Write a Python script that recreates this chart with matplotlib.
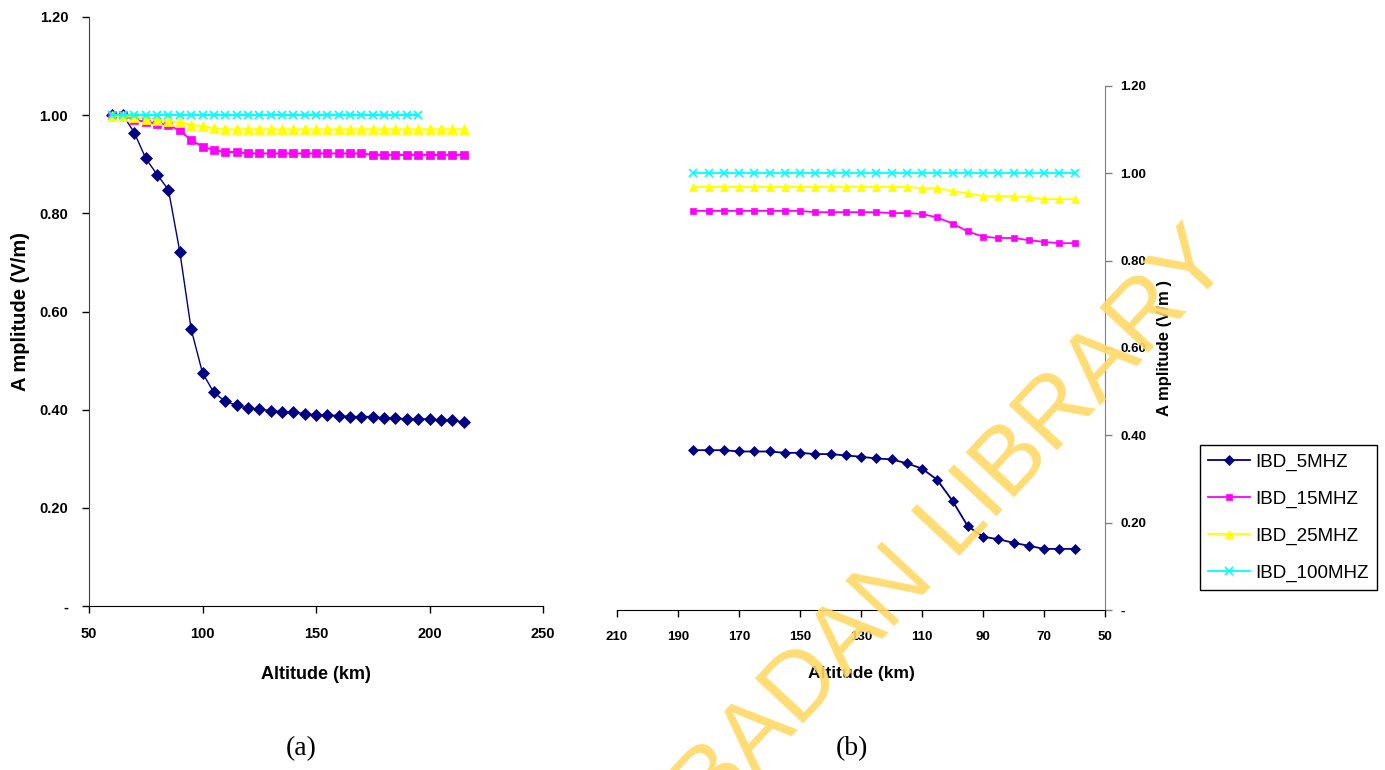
import matplotlib
matplotlib.use('Agg')
import matplotlib.pyplot as plt
from matplotlib import font_manager

# (a) высота 60..215 км
alt_a = [60, 65, 70, 75, 80, 85, 90, 95, 100, 105, 110, 115, 120, 125, 130, 135,
         140, 145, 150, 155, 160, 165, 170, 175, 180, 185, 190, 195, 200, 205, 210, 215]
amp_a_5 = [1.000, 1.000, 0.964, 0.912, 0.879, 0.848, 0.722, 0.564, 0.475, 0.435, 0.417, 0.409,
           0.403, 0.401, 0.398, 0.396, 0.395, 0.392, 0.389, 0.389, 0.388, 0.386, 0.386, 0.386,
           0.383, 0.383, 0.381, 0.381, 0.381, 0.378, 0.378, 0.375]
amp_a_15 = [1.000, 1.000, 0.991, 0.986, 0.983, 0.980, 0.969, 0.949, 0.936, 0.929, 0.925, 0.925,
            0.922, 0.922, 0.922, 0.922, 0.922, 0.922, 0.922, 0.922, 0.922, 0.922, 0.922, 0.919,
            0.919, 0.919, 0.919, 0.919, 0.919, 0.919, 0.919, 0.919]
amp_a_25 = [0.998, 0.998, 0.997, 0.993, 0.990, 0.988, 0.986, 0.980, 0.978, 0.973, 0.971, 0.971,
            0.971, 0.971, 0.971, 0.971, 0.971, 0.971, 0.971, 0.971, 0.971, 0.971, 0.971, 0.971,
            0.971, 0.971, 0.971, 0.971, 0.971, 0.971, 0.971, 0.971]
# 100 МГц только до 195 км
amp_a_100 = [1.000, 1.000, 1.000, 1.000, 1.000, 1.000, 1.000, 1.000, 1.000, 1.000, 1.000, 1.000,
             1.000, 1.000, 1.000, 1.000, 1.000, 1.000, 1.000, 1.000, 1.000, 1.000, 1.000, 1.000,
             1.000, 1.000, 1.000, 1.000]

# (b) высота 185..60 км
alt_b = [185, 180, 175, 170, 165, 160, 155, 150, 145, 140, 135, 130, 125,
         120, 115, 110, 105, 100, 95, 90, 85, 80, 75, 70, 65, 60]
amp_b_5 = [0.366, 0.366, 0.366, 0.363, 0.363, 0.363, 0.360, 0.360, 0.357, 0.357, 0.354, 0.351, 0.347,
           0.345, 0.336, 0.324, 0.298, 0.250, 0.192, 0.168, 0.162, 0.154, 0.147, 0.140, 0.140, 0.140]
amp_b_15 = [0.914, 0.914, 0.914, 0.914, 0.914, 0.914, 0.914, 0.914, 0.911, 0.911, 0.911, 0.911, 0.911,
            0.909, 0.909, 0.907, 0.899, 0.885, 0.867, 0.855, 0.852, 0.852, 0.847, 0.843, 0.840, 0.840]
amp_b_25 = [0.969, 0.969, 0.969, 0.969, 0.969, 0.969, 0.969, 0.969, 0.969, 0.969, 0.969, 0.969, 0.969,
            0.969, 0.969, 0.966, 0.966, 0.960, 0.954, 0.948, 0.948, 0.948, 0.945, 0.941, 0.941, 0.941]
amp_b_100 = [1.000, 1.000, 1.000, 1.000, 1.000, 1.000, 1.000, 1.000, 1.000, 1.000, 1.000, 1.000, 1.000,
             1.000, 1.000, 1.000, 1.000, 1.000, 1.000, 1.000, 1.000, 1.000, 1.000, 1.000, 1.000, 1.000]

series_names = ['IBD_5MHZ', 'IBD_15MHZ', 'IBD_25MHZ', 'IBD_100MHZ']
y_ticks = [0.0, 0.2, 0.4, 0.6, 0.8, 1.0, 1.2]
y_tick_labels = ['-', '0.20', '0.40', '0.60', '0.80', '1.00', '1.20']
x_ticks_a = [50, 100, 150, 200, 250]
x_ticks_b = [210, 190, 170, 150, 130, 110, 90, 70, 50]

colors = ['#000080', '#FF00FF', '#FFFF00', '#00FFFF']
markers = ['D', 's', '^', 'x']

names = {f.name for f in font_manager.fontManager.ttflist}
narrow = 'Liberation Sans Narrow' if 'Liberation Sans Narrow' in names else 'Liberation Sans'
small = 9.5 if narrow == 'Liberation Sans' else 10.5   # нет узкого шрифта - уменьшаем
plt.rcParams['font.family'] = ['Liberation Sans', 'DejaVu Sans']

W, H = 1385, 770
fig = plt.figure(figsize=(W / 100, H / 100), dpi=100)
ax_a = fig.add_axes([89 / W, 1 - 606 / H, 454 / W, 589 / H])
ax_b = fig.add_axes([617 / W, 1 - 610 / H, 488 / W, 524 / H])

# --- панель (a)
data_a = [(alt_a, amp_a_5), (alt_a, amp_a_15), (alt_a, amp_a_25), (alt_a[:len(amp_a_100)], amp_a_100)]
msize_a = [6, 5.5, 6.5, 6]
lw_a = [1.0, 1.5, 1.5, 1.5]
for i, (xs, ys) in enumerate(data_a):
    ax_a.plot(xs, ys, color=colors[i], marker=markers[i], markersize=msize_a[i], lw=lw_a[i],
              markeredgewidth=1.3 if markers[i] == 'x' else 0.5, clip_on=False)
ax_a.set_xlim(50, 250)
ax_a.set_ylim(0, 1.2)
ax_a.set_xticks(x_ticks_a)
ax_a.set_yticks(y_ticks)
ax_a.set_yticklabels(y_tick_labels)
for s in ['top', 'right']:
    ax_a.spines[s].set_visible(False)
ax_a.spines['left'].set_color('#404040')
ax_a.tick_params(direction='out', length=5, width=1, labelsize=10.5, pad=10)
for lab in ax_a.get_xticklabels() + ax_a.get_yticklabels():
    lab.set_fontweight('bold')
ax_a.set_xlabel('Altitude (km)', fontsize=13, fontweight='bold', labelpad=18)
ax_a.set_ylabel('A mplitude (V/m)', fontsize=14.5, fontweight='bold', labelpad=7)

# --- панель (b)
data_b = [amp_b_5, amp_b_15, amp_b_25, amp_b_100]
msize_b = [5.5, 5, 6, 5.5]
lines_b = []
for i, ys in enumerate(data_b):
    ln, = ax_b.plot(alt_b, ys, color=colors[i], marker=markers[i], markersize=msize_b[i], lw=1.3,
                    markeredgewidth=1.2 if markers[i] == 'x' else 0.5, label=series_names[i])
    lines_b.append(ln)
ax_b.set_xlim(210, 50)
ax_b.set_ylim(0, 1.2)
ax_b.set_xticks(x_ticks_b)
ax_b.set_yticks(y_ticks)
ax_b.set_yticklabels(y_tick_labels)
ax_b.yaxis.tick_right()
ax_b.yaxis.set_label_position('right')
for s in ['top', 'left']:
    ax_b.spines[s].set_visible(False)
ax_b.spines['right'].set_color('#808080')
ax_b.tick_params(axis='y', direction='out', length=5, width=1, labelsize=small, pad=6, color='#808080')
ax_b.tick_params(axis='x', direction='out', length=5, width=1, labelsize=small, pad=10)
for lab in ax_b.get_xticklabels() + ax_b.get_yticklabels():
    lab.set_fontweight('bold')
    lab.set_family([narrow, 'DejaVu Sans'])
ax_b.set_xlabel('Altitude (km)', fontsize=12.5, fontweight='bold', family=[narrow, 'DejaVu Sans'], labelpad=17)
ax_b.set_ylabel('A mplitude (V/m )', fontsize=12, fontweight='bold', labelpad=8, rotation=90)

# легенда
fig.legend(lines_b, series_names, loc='upper left', bbox_to_anchor=(1200 / W, 1 - 445 / H),
           frameon=True, fancybox=False, edgecolor='black', framealpha=1, borderaxespad=0,
           prop={'family': [narrow, 'DejaVu Sans'], 'size': 13.5}, handlelength=2.2,
           handletextpad=0.3, labelspacing=1.05, borderpad=0.45)

# подписи (a), (b)
fig.text(301 / W, 1 - 749 / H, '(a)', fontsize=20, family='Liberation Serif', ha='center', va='center')
fig.text(852 / W, 1 - 749 / H, '(b)', fontsize=20, family='Liberation Serif', ha='center', va='center')

# водяной знак
fig.text(1233 / W, 1 - 262 / H, 'IBADAN LIBRARY', fontsize=69, color='#FFD966', alpha=0.9,
         rotation=47, rotation_mode='anchor', ha='right', va='baseline', zorder=10)

fig.savefig('out.png', dpi=100)
